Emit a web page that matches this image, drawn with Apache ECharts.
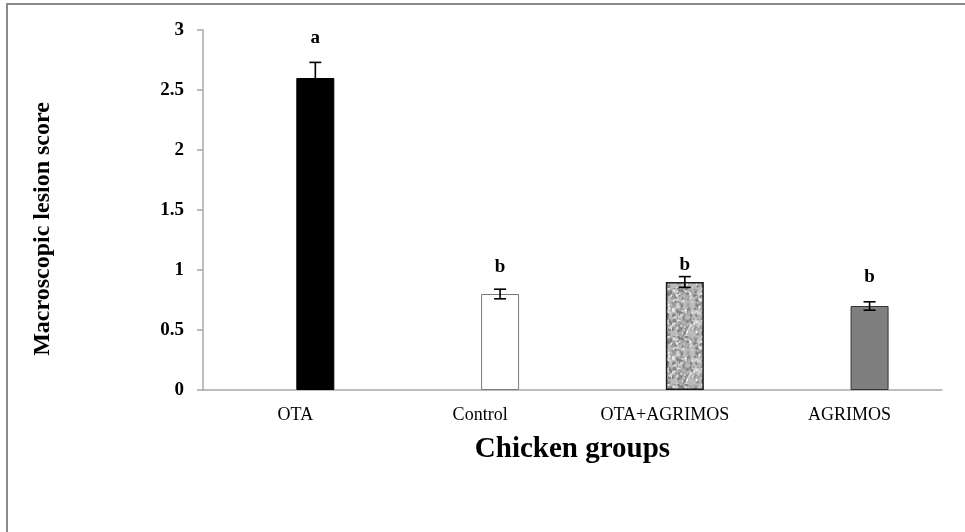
<!DOCTYPE html>
<html><head><meta charset="utf-8">
<script src="https://cdn.jsdelivr.net/npm/echarts@6/dist/echarts.min.js"></script>
<style>
html,body{margin:0;padding:0;background:#fff;}
#wrap{position:relative;width:965px;height:532px;overflow:hidden;}
#chart{position:absolute;left:0;top:0;width:965px;height:532px;}
#frame{position:absolute;left:6px;top:3px;width:1000px;height:600px;border-left:2px solid #8a8a8a;border-top:2px solid #8a8a8a;pointer-events:none;}
</style></head><body>
<div id="wrap"><div id="chart"></div><div id="frame"></div></div>
<script>
// ---- data ----
const categories = ['OTA', 'Control', 'OTA+AGRIMOS', 'AGRIMOS'];
const means = [2.6, 0.8, 0.9, 0.7];
const errors = [0.13, 0.04, 0.045, 0.035];
const letters = ['a', 'b', 'b', 'b'];
const letterLevels = [2.93, 1.025, 1.04, 0.94];
const yTickLabels = ['0', '0.5', '1', '1.5', '2', '2.5', '3'];

// ---- style ----
const SERIF = '"Liberation Serif", "Times New Roman", serif';
const BAR_W = 38;
const BAR_GAP = 0.05;
const SHIFT = (BAR_W + BAR_W * BAR_GAP) / 2;

function speckle() {
  const c = document.createElement('canvas');
  c.width = 48; c.height = 48;
  const g = c.getContext('2d');
  g.fillStyle = '#bababa'; g.fillRect(0, 0, 48, 48);
  let s = 98765;
  const rnd = () => { s = (s * 1103515245 + 12345) & 0x7fffffff; return s / 0x7fffffff; };
  for (let k = 0; k < 420; k++) {
    const x = rnd() * 48, y = rnd() * 48, r = 0.5 + rnd() * 1.0, t = rnd(), a = rnd() * 3.14;
    g.fillStyle = t < 0.35 ? '#848484' : (t < 0.6 ? '#a2a2a2' : (t < 0.85 ? '#d4d4d4' : '#eeeeee'));
    g.beginPath(); g.ellipse(x, y, r * 1.6, r, a, 0, Math.PI * 2); g.fill();
  }
  return c;
}

const barStyles = [
  { color: '#000000', borderColor: '#000000', borderWidth: 1 },
  { color: '#ffffff', borderColor: '#7a7a7a', borderWidth: 1 },
  { color: { image: speckle(), repeat: 'repeat' }, borderColor: '#1a1a1a', borderWidth: 1.5 },
  { color: '#7f7f7f', borderColor: '#333333', borderWidth: 1 }
];

const chart = echarts.init(document.getElementById('chart'));
chart.setOption({
  animation: false,
  backgroundColor: '#ffffff',
  grid: { left: 203, right: 23, top: 30, bottom: 142 },
  xAxis: {
    type: 'category',
    data: categories,
    axisLine: { lineStyle: { color: '#a8a8a8', width: 1.5 } },
    axisTick: { show: false },
    axisLabel: { fontFamily: SERIF, fontSize: 18, color: '#000', margin: 16 },
    name: 'Chicken groups',
    nameLocation: 'middle',
    nameGap: 45,
    nameTextStyle: { fontFamily: SERIF, fontSize: 29, fontWeight: 'bold', color: '#000' }
  },
  yAxis: {
    type: 'value',
    min: 0, max: 3, interval: 0.5,
    axisLine: { show: true, lineStyle: { color: '#a8a8a8', width: 1.5 } },
    axisTick: { show: true, length: 6, lineStyle: { color: '#a8a8a8', width: 1.5 } },
    splitLine: { show: false },
    axisLabel: {
      fontFamily: SERIF, fontSize: 19, fontWeight: 'bold', color: '#000', margin: 19,
      formatter: v => yTickLabels[Math.round(v / 0.5)]
    },
    name: 'Macroscopic lesion score',
    nameLocation: 'middle',
    nameGap: 148,
    nameTextStyle: { fontFamily: SERIF, fontSize: 24, fontWeight: 'bold', color: '#000', padding: [0, 38, 0, 0] }
  },
  series: [
    { type: 'bar', name: 'spacer', data: categories.map(() => '-'), barWidth: BAR_W, barGap: (BAR_GAP * 100) + '%', silent: true },
    {
      type: 'bar', name: 'score', barWidth: BAR_W, barGap: (BAR_GAP * 100) + '%',
      data: means.map((m, i) => ({ value: m, itemStyle: barStyles[i] }))
    },
    {
      type: 'custom', name: 'error', z: 5,
      data: means.map((m, i) => [i, m, errors[i]]),
      renderItem: (params, api) => {
        const i = api.value(0), m = api.value(1), e = api.value(2);
        const top = api.coord([i, m + e]), bot = api.coord([i, m - e]);
        const x = top[0] + SHIFT, cap = 6;
        const st = { stroke: '#000', lineWidth: 1.6 };
        return { type: 'group', children: [
          { type: 'line', shape: { x1: x, y1: top[1], x2: x, y2: bot[1] }, style: st },
          { type: 'line', shape: { x1: x - cap, y1: top[1], x2: x + cap, y2: top[1] }, style: st },
          { type: 'line', shape: { x1: x - cap, y1: bot[1], x2: x + cap, y2: bot[1] }, style: st }
        ] };
      }
    },
    {
      type: 'custom', name: 'letters', z: 6,
      data: letterLevels.map((v, i) => [i, v]),
      renderItem: (params, api) => {
        const p = api.coord([api.value(0), api.value(1)]);
        return { type: 'text', x: p[0] + SHIFT, y: p[1], style: {
          text: letters[params.dataIndex], font: 'bold 19px ' + SERIF, fill: '#000',
          align: 'center', verticalAlign: 'middle' } };
      }
    }
  ]
});
</script>
</body></html>
